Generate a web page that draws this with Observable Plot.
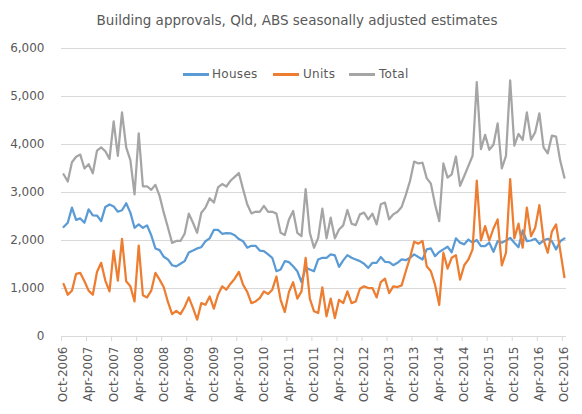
<!DOCTYPE html>
<html><head><meta charset="utf-8">
<script src="https://cdn.jsdelivr.net/npm/d3@7"></script>
<script src="https://cdn.jsdelivr.net/npm/@observablehq/plot@0.6"></script>
<style>
body{margin:0;background:#fff;}
#wrap{position:relative;width:582px;height:414px;font-family:"DejaVu Sans",sans-serif;color:#595959;overflow:hidden;}
#title{position:absolute;left:0;width:594px;top:12px;text-align:center;font-size:13.5px;line-height:16px;}
.leg{position:absolute;top:66px;font-size:12px;line-height:16px;white-space:nowrap;letter-spacing:0.3px;}
.sw{position:absolute;height:2.5px;width:26px;top:73px;}
#chart{position:absolute;left:0;top:0;}
</style></head><body>
<div id="wrap">
<div id="chart"></div>
<div id="title">Building approvals, Qld, ABS seasonally adjusted estimates</div>
<div id="legend"></div>
</div>
<script>
const tickLabels = ["Oct-2006","Apr-2007","Oct-2007","Apr-2008","Oct-2008","Apr-2009","Oct-2009","Apr-2010","Oct-2010","Apr-2011","Oct-2011","Apr-2012","Oct-2012","Apr-2013","Oct-2013","Apr-2014","Oct-2014","Apr-2015","Oct-2015","Apr-2016","Oct-2016"];
const yTicks = [0,1000,2000,3000,4000,5000,6000];
const seriesNames = ["Houses","Units","Total"];
const seriesColors = ["#5B9BD5","#ED7D31","#A5A5A5"];

const houses = [2280,2370,2685,2430,2460,2370,2650,2525,2520,2405,2700,2750,2710,2600,2630,2775,2580,2265,2335,2265,2315,2110,1835,1800,1660,1605,1485,1460,1515,1570,1750,
1790,1835,1860,1985,2045,2220,2220,2140,2155,2150,2110,2030,1985,1850,1890,1890,1790,1780,1710,1640,1360,1395,1570,1550,1465,1360,1135,1430,1395,1360,
1605,1640,1640,1710,1690,1450,1585,1695,1640,1605,1570,1515,1430,1535,1535,1655,1555,1550,1485,1535,1605,1590,1640,1710,1655,1605,1815,1835,1675,1760,
1815,1870,1755,2045,1955,1920,2020,1955,2010,1885,1885,1955,1765,1985,1955,2000,2055,1955,1860,2210,1985,2000,2035,1930,2000,2035,1985,1815,1985,2045];

const units = [1095,870,955,1305,1325,1150,955,870,1345,1535,1165,940,1790,1165,2035,1150,1045,730,1895,860,815,955,1325,1185,1025,720,465,535,465,615,815,
595,350,695,660,835,580,870,1045,975,1100,1205,1345,1080,930,695,730,800,940,885,975,1250,765,510,930,1130,790,940,1640,790,525,
490,1025,420,790,385,765,695,940,695,730,995,1045,1010,1010,815,1135,1205,905,1045,1030,1065,1360,1640,1975,1935,1990,1465,1360,1080,660,
1745,1415,1640,1695,1185,1485,1605,1815,3245,2000,2300,2000,2250,2440,1480,1745,3280,2045,2350,1850,2685,2090,2265,2735,2020,1745,2185,2335,1790,1235];

const total = [3380,3230,3630,3745,3790,3500,3590,3400,3870,3940,3860,3700,4480,3765,4670,3940,3675,2960,4230,3130,3130,3055,3160,2930,2580,2270,1950,1990,1990,2140,2560,
2370,2160,2580,2685,2880,2790,3105,3175,3125,3245,3325,3405,3070,2755,2565,2600,2595,2720,2595,2600,2560,2160,2115,2440,2615,2160,2090,3070,2160,1850,
2055,2665,2045,2475,2045,2230,2315,2635,2350,2320,2545,2580,2440,2560,2335,2755,2790,2440,2545,2600,2700,2950,3240,3645,3605,3620,3300,3185,2755,2405,
3605,3310,3380,3750,3140,3345,3555,3765,5300,3905,4200,3890,3995,4440,3500,3765,5335,3975,4220,4095,4670,4100,4255,4650,3940,3815,4185,4165,3660,3310];

const data = [];
[houses, units, total].forEach((arr, k) => arr.forEach((v, i) => data.push({i, v, s: seriesNames[k]})));
const labelIdx = tickLabels.map((d, j) => j * 6);
const bounds = d3.range(0, 122, 6).map(d => d - 0.5);

const chart = Plot.plot({
  width: 582, height: 414,
  marginTop: 48, marginBottom: 78, marginLeft: 61, marginRight: 16,
  style: {fontFamily: "DejaVu Sans", fontSize: "12px", color: "#595959", background: "transparent"},
  x: {domain: [-0.5, 120.5]},
  y: {domain: [0, 6000]},
  color: {domain: seriesNames, range: seriesColors},
  marks: [
    Plot.gridY(yTicks.slice(1), {stroke: "#d9d9d9", strokeOpacity: 1, strokeWidth: 1}),
    Plot.ruleY([0], {stroke: "#d9d9d9", strokeWidth: 1}),
    Plot.axisY(yTicks, {tickSize: 0, tickPadding: 17, tickFormat: d3.format(","), label: null, fill: "#595959"}),
    Plot.axisX(bounds, {tickSize: 5, stroke: "#d9d9d9", tickFormat: () => "", label: null}),
    Plot.text(labelIdx, {x: d => d, y: 0, text: (d, j) => tickLabels[j], rotate: -90, textAnchor: "end", lineAnchor: "middle", dy: 10, fill: "#595959", fontSize: 12, letterSpacing: "0.9px"}),
    Plot.line(data, {x: "i", y: "v", z: "s", stroke: "s", strokeWidth: 2.25, strokeLinejoin: "round", strokeLinecap: "round"})
  ]
});
document.getElementById("chart").appendChild(chart);

const legPos = [[183, 212], [273, 303], [349, 379]];
const leg = document.getElementById("legend");
seriesNames.forEach((name, k) => {
  const sw = document.createElement("div");
  sw.className = "sw";
  sw.style.left = legPos[k][0] + "px";
  sw.style.background = seriesColors[k];
  leg.appendChild(sw);
  const t = document.createElement("div");
  t.className = "leg";
  t.style.left = legPos[k][1] + "px";
  t.textContent = name;
  leg.appendChild(t);
});
</script>
</body></html>
